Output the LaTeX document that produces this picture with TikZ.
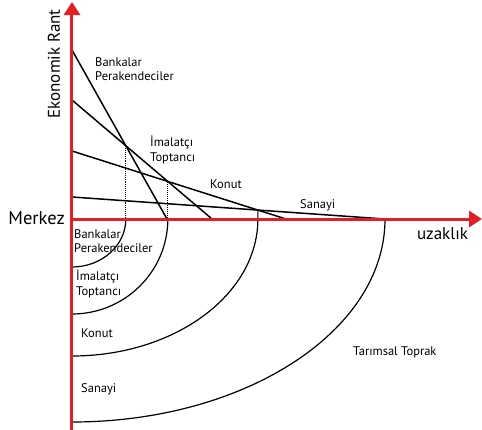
\documentclass[tikz,border=0pt]{standalone}
\usepackage{fontspec}
\setmainfont{PT Sans}
\usetikzlibrary{arrows.meta,intersections}
\definecolor{axisred}{RGB}{226,30,38}

\begin{document}
\begin{tikzpicture}[x=1pt,y=1pt,
  rentline/.style={black, line width=1.5pt},
  ring/.style={black, line width=1.2pt},
  axis/.style={axisred, line width=3pt, -{Triangle[width=16pt,length=13pt]}},
  lbl/.style={font=\fontsize{12.5}{14.5}\selectfont, align=left, anchor=west, inner sep=0pt},
  biglbl/.style={font=\fontsize{17}{20}\selectfont, inner sep=0pt}]
  \useasboundingbox (-72,-210) rectangle (410,219);

  % Axis points
  \coordinate (O) at (0,0);
  \coordinate (ytop) at (0,217);
  \coordinate (ybot) at (0,-211);
  \coordinate (xend) at (410,0);

  % Rent gradients
  \draw[rentline, name path=bank] (0,169) coordinate (bank0) -- (95,0) coordinate (bank1);
  \draw[rentline, name path=imal] (0,119) coordinate (imal0) -- (140,0) coordinate (imal1);
  \draw[rentline, name path=konut] (0,68) coordinate (konut0) -- (214,0) coordinate (konut1);
  \draw[rentline, name path=sanayi] (0,22) coordinate (sanayi0) -- (313,0) coordinate (sanayi1);

  \path[name intersections={of=bank and imal, by=p1}];
  \path[name intersections={of=imal and konut, by=p2}];
  \path[name intersections={of=konut and sanayi, by=p3}];

  % Projections
  \draw[densely dotted, line width=1.1pt] (p1) -- (p1 |- O);
  \draw[densely dotted, line width=1.1pt] (p2) -- (p2 |- O);

  % Land use rings
  \draw[ring] (p1 |- O) arc[start angle=0, end angle=-90, x radius=53.8, y radius=48];
  \draw[ring] (p2 |- O) arc[start angle=0, end angle=-90, x radius=95.8, y radius=95];
  \draw[ring] (p3) -- (p3 |- O) arc[start angle=0, end angle=-90, x radius=185.9, y radius=137];
  \draw[ring] (sanayi1) arc[start angle=0, end angle=-90, x radius=313, y radius=203];

  % Axes
  \draw[axis] (ybot) -- (ytop);
  \draw[axis] (O) -- (xend);

  % Axis labels
  \node[biglbl, rotate=90] (rant) at (-18,155) {Ekonomik Rant};
  \node[biglbl, font=\fontsize{18.5}{21}\selectfont, anchor=east] (merkez) at (-7,1) {Merkez};
  \node[biglbl] (uzak) at (370.5,-15) {uzaklık};

  % Gradient labels
  \node[lbl] (bankU) at (23,150) {Bankalar\\Perakendeciler};
  \node[lbl] (imalU) at (78,69) {İmalatçı\\Toptancı};
  \node[lbl] (konutU) at (138,35) {Konut};
  \node[lbl] (sanayiU) at (228,14) {Sanayi};

  % Ring labels
  \node[lbl] (bankL) at (2,-22) {Bankalar\\Perakendeciler};
  \node[lbl] (imalL) at (4,-65) {İmalatçı\\Toptancı};
  \node[lbl] (konutL) at (9,-114) {Konut};
  \node[lbl] (sanayiL) at (9,-170) {Sanayi};
  \node[lbl] (tarim) at (281,-133) {Tarımsal Toprak};
\end{tikzpicture}
\end{document}
